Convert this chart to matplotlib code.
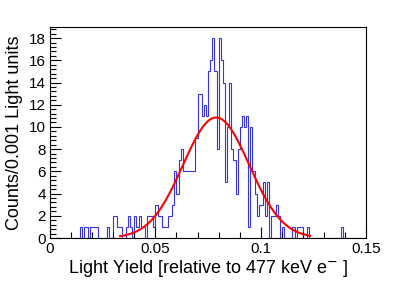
import numpy as np
import matplotlib
matplotlib.use('Agg')
import matplotlib.pyplot as plt
from matplotlib.ticker import MultipleLocator

plt.rcParams['font.family'] = ['Liberation Sans', 'DejaVu Sans']
plt.rcParams['mathtext.fontset'] = 'custom'
plt.rcParams['mathtext.rm'] = 'Liberation Sans'
plt.rcParams['mathtext.default'] = 'regular'

# histogram: bin width 0.001, bins start at 0
bin_width = 0.001
counts = [0] * 14 + [
    1, 0, 1, 1, 0, 1, 1, 1, 1, 0,      # 14-23
    0, 0, 0, 1, 0, 0, 2, 2, 1, 1,      # 24-33
    0, 0, 1, 2, 1, 0, 2, 1, 2, 1,      # 34-43
    1, 0, 2, 2, 2, 1, 3, 2, 2, 1,      # 44-53
    1, 1, 2, 2, 3, 6, 4, 7, 8, 6,      # 54-63
    6, 6, 6, 6, 6, 9, 13, 13, 11, 12,  # 64-73
    11, 15, 16, 18, 15, 8, 18, 16, 14, 5,  # 74-83
    10, 14, 8, 7, 4, 8, 10, 11, 10, 11,    # 84-93
    1, 10, 6, 4, 2, 3, 3, 5, 2, 5,     # 94-103
    0, 2, 2, 3, 2, 0, 1, 0, 0, 0,      # 104-113
    0, 1, 0, 1, 1, 1, 0, 0, 1, 0,      # 114-123
    0, 0, 0, 0, 0, 0, 0, 0, 0, 0,      # 124-133
    0, 0, 0, 0, 1, 0, 0, 0, 0, 0,      # 134-143
    0, 0, 0, 0, 0, 0]                  # 144-149
counts = np.array(counts)
edges = np.arange(len(counts) + 1) * bin_width

# gaussian fit
fit_amp = 10.85
fit_mean = 0.0788
fit_sigma = 0.0157
fit_lo, fit_hi = 0.0332, 0.1234

fig = plt.figure(figsize=(4.15, 2.81), dpi=100)
ax = fig.add_axes([0.1205, 0.153, 0.762, 0.751])

ax.stairs(counts, edges, color='#3535e0', linewidth=0.8)
xf = np.linspace(fit_lo, fit_hi, 300)
ax.plot(xf, fit_amp * np.exp(-0.5 * ((xf - fit_mean) / fit_sigma) ** 2),
        color='red', linewidth=1.5)

ax.set_xlim(0, 0.15)
ax.set_ylim(0, 19)
ax.xaxis.set_major_locator(MultipleLocator(0.05))
ax.xaxis.set_minor_locator(MultipleLocator(0.01))
ax.yaxis.set_major_locator(MultipleLocator(2))
ax.yaxis.set_minor_locator(MultipleLocator(0.4))
ax.set_xticks([0, 0.05, 0.1, 0.15], ['0', '0.05', '0.1', '0.15'])
ax.tick_params(which='both', direction='in', top=False, right=False,
               labelsize=11, width=0.8)
ax.tick_params(which='major', length=8, pad=3)
ax.tick_params(which='minor', length=4.5)
for s in ax.spines.values():
    s.set_linewidth(0.8)

ax.set_xlabel(r'Light Yield [relative to 477 keV e$^{\mathsf{-}}$ ]', fontsize=13, labelpad=1)
ax.set_ylabel('Counts/0.001 Light units', fontsize=13, labelpad=4)

fig.savefig('out.png', dpi=100)
